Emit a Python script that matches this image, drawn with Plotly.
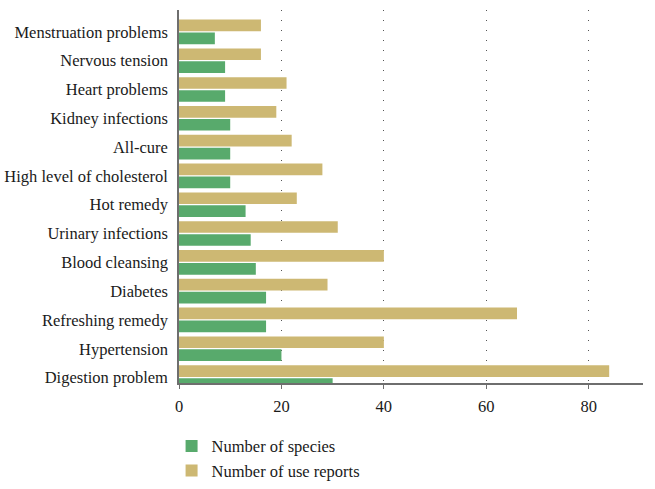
import plotly.graph_objects as go

# categories listed bottom -> top
categories = [
    "Digestion problem", "Hypertension", "Refreshing remedy", "Diabetes",
    "Blood cleansing", "Urinary infections", "Hot remedy",
    "High level of cholesterol", "All-cure", "Kidney infections",
    "Heart problems", "Nervous tension", "Menstruation problems",
]
species = [30, 20, 17, 17, 15, 14, 13, 10, 10, 10, 9, 9, 7]
use_reports = [84, 40, 66, 29, 40, 31, 23, 28, 22, 19, 21, 16, 16]

x_ticks = [0, 20, 40, 60, 80]

GREEN = "#58aa6c"
TAN = "#cdb873"
FONT = "Liberation Serif"
FS = 16.5

fig = go.Figure()
fig.add_trace(go.Bar(
    y=categories, x=species, orientation="h", name="Number of species",
    marker=dict(color=GREEN, line=dict(width=0)),
))
fig.add_trace(go.Bar(
    y=categories, x=use_reports, orientation="h", name="Number of use reports",
    marker=dict(color=TAN, line=dict(width=0)),
))

fig.update_layout(
    width=655, height=489,
    margin=dict(l=179, r=12, t=10, b=105.5, autoexpand=False),
    paper_bgcolor="white", plot_bgcolor="white",
    barmode="group", bargap=0.1, bargroupgap=0.1,
    font=dict(family=FONT, size=FS, color="#1a1a1a"),
    showlegend=True,
    legend=dict(
        x=-0.016, y=-0.1226, xanchor="left", yanchor="top",
        orientation="v", font=dict(family=FONT, size=FS, color="#1a1a1a"),
        tracegroupgap=0, itemsizing="constant",
    ),
    xaxis=dict(
        range=[0, 90.6], tickvals=x_ticks, ticktext=[str(v) for v in x_ticks],
        showgrid=True, gridcolor="#555555", gridwidth=1, griddash="1px,9px",
        zeroline=False, showline=True, linecolor="#6e6e6e", linewidth=1.5,
        ticks="outside", ticklen=4, tickcolor="#6e6e6e", tickwidth=1,
        ticklabelstandoff=3,
        tickfont=dict(family=FONT, size=FS, color="#1a1a1a"),
        automargin=False,
    ),
    yaxis=dict(
        type="category", categoryorder="array", categoryarray=categories,
        range=[-0.19, 12.76], showgrid=False, zeroline=False,
        showline=True, linecolor="#6e6e6e", linewidth=1.5,
        ticks="", ticklabelstandoff=6,
        tickfont=dict(family=FONT, size=FS, color="#1a1a1a"),
        automargin=False,
    ),
)

fig.write_html(
    "out.html",
    config={"displayModeBar": False},
    post_script="document.body.style.margin='0';document.body.style.overflow='hidden';",
)
